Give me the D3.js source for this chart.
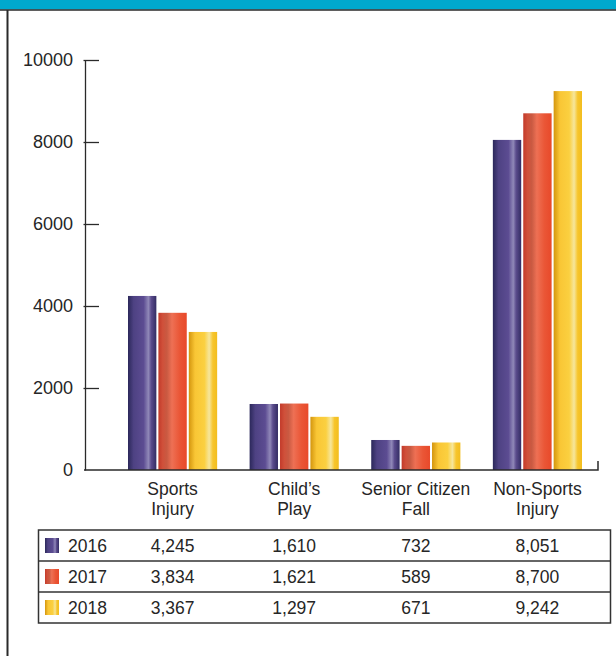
<!DOCTYPE html>
<html>
<head>
<meta charset="utf-8">
<script src="https://cdn.jsdelivr.net/npm/d3@7"></script>
<style>
  body { margin: 0; background: #fff; }
  text { font-family: "Liberation Sans", Arial, sans-serif; fill: #262626; }
</style>
</head>
<body>
<div id="chart"></div>
<script>
// data
const categories = [["Sports", "Injury"], ["Child\u2019s", "Play"], ["Senior Citizen", "Fall"], ["Non-Sports", "Injury"]];
const years = ["2016", "2017", "2018"];
const values2016 = [4245, 1610, 732, 8051];
const values2017 = [3834, 1621, 589, 8700];
const values2018 = [3367, 1297, 671, 9242];
const yTicks = [0, 2000, 4000, 6000, 8000, 10000];

const series = [values2016, values2017, values2018];
const catKeys = categories.map(c => c.join(" "));

const W = 616, H = 656;
const svg = d3.select("#chart").append("svg")
    .attr("width", W)
    .attr("height", H);

// gradients for the cylinder look
const defs = svg.append("defs");
const gradStops = [
  [["0%", "#2b285a"], ["20%", "#4e4283"], ["55%", "#5c4c92"], ["72%", "#9088b8"], ["82%", "#5a4b8c"], ["100%", "#332c63"]],
  [["0%", "#c23a2a"], ["15%", "#d0503a"], ["30%", "#c95a42"], ["48%", "#ee7054"], ["75%", "#ea5636"], ["100%", "#e8492a"]],
  [["0%", "#d3950e"], ["22%", "#f9c635"], ["55%", "#fbd040"], ["72%", "#f6e69c"], ["85%", "#f7c52c"], ["100%", "#f2bd1e"]]
];
gradStops.forEach((stops, i) => {
  const lg = defs.append("linearGradient")
      .attr("id", "grad" + i)
      .attr("x1", "0%").attr("x2", "100%")
      .attr("y1", "0%").attr("y2", "0%");
  stops.forEach(s => lg.append("stop").attr("offset", s[0]).attr("stop-color", s[1]));
});

// banner + page border
svg.append("rect").attr("x", 0).attr("y", 0).attr("width", W).attr("height", 9.5).attr("fill", "#00a9ce");
svg.append("line").attr("x1", 0).attr("x2", W).attr("y1", 10).attr("y2", 10)
    .attr("stroke", "#2a2a2a").attr("stroke-width", 1.5);
svg.append("line").attr("x1", 7.5).attr("x2", 7.5).attr("y1", 10).attr("y2", H)
    .attr("stroke", "#2a2a2a").attr("stroke-width", 2);

// scales
const y = d3.scaleLinear().domain([0, 10000]).range([470, 60]);
const x0 = d3.scaleBand().domain(catKeys).range([128, 582]).paddingInner(0.267).paddingOuter(0);
const x1 = d3.scaleBand().domain(years).range([0, x0.bandwidth()]).paddingInner(0.067);

// y axis
const yAxis = svg.append("g")
    .attr("transform", "translate(85,0)")
    .call(d3.axisLeft(y).tickValues(yTicks.filter(t => t > 0)).tickSize(-14).tickSizeOuter(0).tickPadding(12).tickFormat(d3.format("d")));
yAxis.select(".domain").attr("stroke", "#2a2a2a").attr("stroke-width", 1.3);
yAxis.selectAll(".tick line").attr("stroke", "#2a2a2a").attr("stroke-width", 1.3).attr("x1", -1.5);
yAxis.selectAll(".tick text").style("font-size", "18px").attr("fill", "#262626");
// zero label
yAxis.append("text").attr("x", -12).attr("y", y(0)).attr("dy", "0.32em")
    .attr("text-anchor", "end").style("font-size", "18px").text(yTicks[0]);

// bars
const groups = svg.append("g").selectAll("g")
    .data(catKeys)
    .join("g")
    .attr("transform", d => `translate(${x0(d)},0)`);

groups.selectAll("rect")
    .data((d, ci) => years.map((yr, si) => ({ yr, si, v: series[si][ci] })))
    .join("rect")
    .attr("x", d => x1(d.yr))
    .attr("width", x1.bandwidth())
    .attr("y", d => y(d.v))
    .attr("height", d => y(0) - y(d.v))
    .attr("fill", d => `url(#grad${d.si})`);

// baseline
svg.append("path")
    .attr("d", `M84,${y(0)}H598V${y(0) - 9}`)
    .attr("fill", "none").attr("stroke", "#2a2a2a").attr("stroke-width", 1.5);

// category labels
const catLabels = svg.append("g").selectAll("text")
    .data(categories)
    .join("text")
    .attr("text-anchor", "middle")
    .style("font-size", "17.5px")
    .attr("transform", (d, i) => `translate(${x0(catKeys[i]) + x0.bandwidth() / 2},495)`);
catLabels.selectAll("tspan")
    .data(d => d)
    .join("tspan")
    .attr("x", 0)
    .attr("dy", (d, i) => i === 0 ? 0 : 20)
    .text(d => d);

// data table
const tableTop = 530, rowH = 31;
const table = svg.append("g");
table.append("rect")
    .attr("x", 38.5).attr("y", tableTop)
    .attr("width", 572).attr("height", rowH * years.length)
    .attr("fill", "none").attr("stroke", "#333").attr("stroke-width", 1.5);

const rows = table.selectAll("g.row")
    .data(years)
    .join("g")
    .attr("class", "row")
    .attr("transform", (d, i) => `translate(0,${tableTop + i * rowH})`);

rows.filter((d, i) => i > 0).append("line")
    .attr("x1", 38.5).attr("x2", 610.5).attr("y1", 0).attr("y2", 0)
    .attr("stroke", "#333").attr("stroke-width", 1.5);

rows.append("rect")
    .attr("x", 45).attr("y", rowH / 2 - 7.5)
    .attr("width", 14).attr("height", 15)
    .attr("fill", (d, i) => `url(#grad${i})`);

rows.append("text")
    .attr("x", 68).attr("y", rowH / 2).attr("dy", "0.35em")
    .style("font-size", "17.5px")
    .text(d => d);

rows.each(function(yr, si) {
  d3.select(this).selectAll("text.val")
      .data(series[si])
      .join("text")
      .attr("class", "val")
      .attr("x", (v, ci) => x0(catKeys[ci]) + x0.bandwidth() / 2)
      .attr("y", rowH / 2).attr("dy", "0.35em")
      .attr("text-anchor", "middle")
      .style("font-size", "17.5px")
      .text(v => d3.format(",")(v));
});
</script>
</body>
</html>
